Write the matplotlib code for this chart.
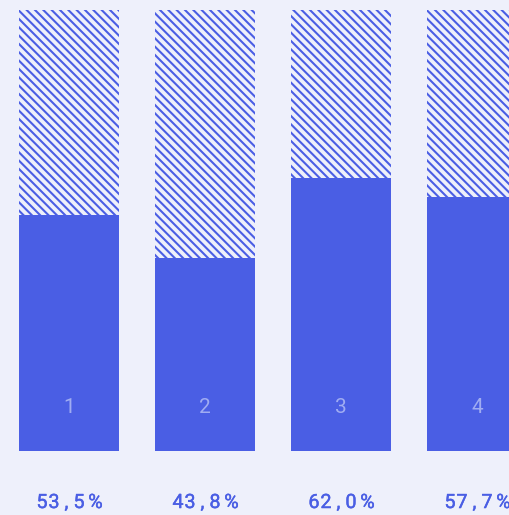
import matplotlib
matplotlib.use("Agg")
import matplotlib.pyplot as plt
import matplotlib.patheffects as pe

categories = ["1", "2", "3", "4"]
values = [53.5, 43.8, 62.0, 57.7]
labels = ["53,5%", "43,8%", "62,0%", "57,7%"]

BG = "#EEF0FB"
BLUE = "#4A5EE4"
LIGHT = "#A0ACF2"

plt.rcParams["hatch.linewidth"] = 1.5

fig = plt.figure(figsize=(5.1, 5.15), dpi=100, facecolor=BG)
ax = fig.add_axes([0, 0, 1, 1])
ax.set_facecolor(BG)

x = list(range(len(categories)))
w = 100 / 136
ax.bar(x, [100] * len(x), width=w, color=BG, edgecolor=BLUE, hatch="\\\\\\\\", linewidth=0)
ax.bar(x, values, width=w, color=BLUE, linewidth=0)

# letter-spaced label: character centre offsets in pixels from bar centre
char_px = [-27, -15, -2.5, 10, 26.5]
medium = [pe.withStroke(linewidth=0.3, foreground=BLUE)]
for xi, c, lab in zip(x, categories, labels):
    ax.text(xi, 8.62, c, ha="center", va="baseline", color=LIGHT, fontsize=15,
            family="Roboto")
    for off, ch in zip(char_px, lab):
        ax.annotate(ch, xy=(xi, -12.93), xytext=(off * 0.72, 0),
                    textcoords="offset points", ha="center", va="baseline",
                    color=BLUE, fontsize=14.2, family="Roboto",
                    path_effects=medium)

ax.set_xlim(-69 / 136, (510 - 69) / 136)
ax.set_ylim(-64 / 4.41, (515 - 64) / 4.41)
ax.axis("off")

fig.savefig("out.png", dpi=100, facecolor=BG)
